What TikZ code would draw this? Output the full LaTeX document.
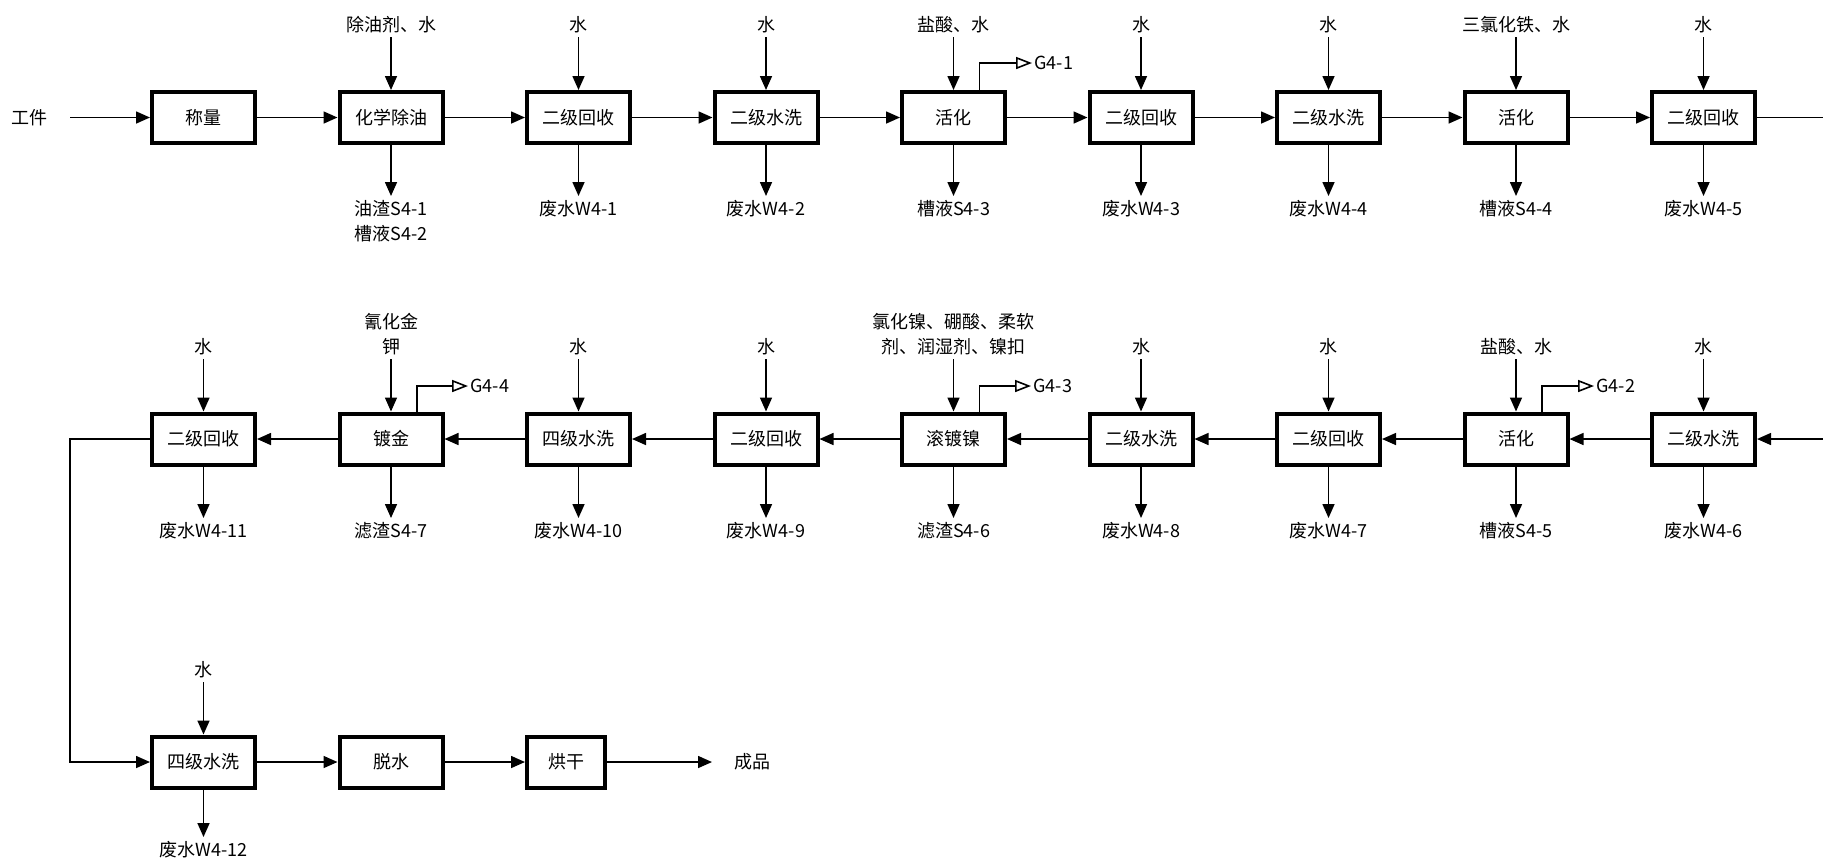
\documentclass[tikz,border=0pt]{standalone}
\usepackage{fontspec}
\setmainfont{Noto Sans CJK SC}
\usetikzlibrary{arrows.meta}
\begin{document}
\begin{tikzpicture}[x=0.5pt,y=-0.5pt,
  proc/.style={draw, line width=2pt, minimum width=51.5pt, minimum height=25.5pt, inner sep=0pt, font=\fontsize{9}{12}\selectfont},
  lbl/.style={inner sep=2pt, font=\fontsize{9}{12.5}\selectfont, align=center},
  gl/.style={inner sep=1pt, anchor=west, font=\fontsize{9}{12}\selectfont},
  flow/.style={line width=0.8pt, -{Triangle[length=7pt,width=6pt]}},
  gas/.style={line width=0.8pt, -{Triangle[open,length=8pt,width=6pt]}},
  plain/.style={line width=0.8pt}]
\useasboundingbox (0,0) rectangle (1823,864);

% ---------- Row 1 ----------
\node[lbl] (work) at (29,117.5) {工件};
\node[proc] (a1) at (203.5,117.5) {称量};
\node[proc] (a2) at (391,117.5) {化学除油};
\node[proc] (a3) at (578.5,117.5) {二级回收};
\node[proc] (a4) at (766,117.5) {二级水洗};
\node[proc] (a5) at (953.5,117.5) {活化};
\node[proc] (a6) at (1141,117.5) {二级回收};
\node[proc] (a7) at (1328.5,117.5) {二级水洗};
\node[proc] (a8) at (1516,117.5) {活化};
\node[proc] (a9) at (1703.5,117.5) {二级回收};
\coordinate (r1) at (1823,117.5);

\draw[flow, shorten <=9.5pt] (work) -- (a1);
\foreach \i/\j in {1/2,2/3,3/4,4/5,5/6,6/7,7/8,8/9} \draw[flow] (a\i) -- (a\j);
\draw[plain] (a9) -- (r1);

\node[lbl,anchor=south] (ta2) at (391,37) {除油剂、水};
\node[lbl,anchor=south] (ta3) at (578.5,37) {水};
\node[lbl,anchor=south] (ta4) at (766,37) {水};
\node[lbl,anchor=south] (ta5) at (953.5,37) {盐酸、水};
\node[lbl,anchor=south] (ta6) at (1141,37) {水};
\node[lbl,anchor=south] (ta7) at (1328.5,37) {水};
\node[lbl,anchor=south] (ta8) at (1516,37) {三氯化铁、水};
\node[lbl,anchor=south] (ta9) at (1703.5,37) {水};
\foreach \i in {2,...,9} \draw[flow] (ta\i) -- (a\i);

\node[lbl,anchor=north] (ba2) at (391,196) {油渣S4-1\\槽液S4-2};
\node[lbl,anchor=north] (ba3) at (578.5,196) {废水W4-1};
\node[lbl,anchor=north] (ba4) at (766,196) {废水W4-2};
\node[lbl,anchor=north] (ba5) at (953.5,196) {槽液S4-3};
\node[lbl,anchor=north] (ba6) at (1141,196) {废水W4-3};
\node[lbl,anchor=north] (ba7) at (1328.5,196) {废水W4-4};
\node[lbl,anchor=north] (ba8) at (1516,196) {槽液S4-4};
\node[lbl,anchor=north] (ba9) at (1703.5,196) {废水W4-5};
\foreach \i in {2,...,9} \draw[flow] (a\i) -- (ba\i);

\node[gl] (g1) at (1032,63) {G4-1};
\draw[gas] ([xshift=13pt]a5.north) |- (g1.west);

% ---------- Row 2 ----------
\node[proc] (b1) at (203.5,439) {二级回收};
\node[proc] (b2) at (391,439) {镀金};
\node[proc] (b3) at (578.5,439) {四级水洗};
\node[proc] (b4) at (766,439) {二级回收};
\node[proc] (b5) at (953.5,439) {滚镀镍};
\node[proc] (b6) at (1141,439) {二级水洗};
\node[proc] (b7) at (1328.5,439) {二级回收};
\node[proc] (b8) at (1516,439) {活化};
\node[proc] (b9) at (1703.5,439) {二级水洗};
\coordinate (r2) at (1823,439);

\draw[flow] (r2) -- (b9);
\foreach \i/\j in {9/8,8/7,7/6,6/5,5/4,4/3,3/2,2/1} \draw[flow] (b\i) -- (b\j);

\node[lbl,anchor=south] (tb1) at (203.5,359) {水};
\node[lbl,anchor=south] (tb2) at (391,359) {氰化金\\钾};
\node[lbl,anchor=south] (tb3) at (578.5,359) {水};
\node[lbl,anchor=south] (tb4) at (766,359) {水};
\node[lbl,anchor=south] (tb5) at (953.5,359) {氯化镍、硼酸、柔软\\剂、润湿剂、镍扣};
\node[lbl,anchor=south] (tb6) at (1141,359) {水};
\node[lbl,anchor=south] (tb7) at (1328.5,359) {水};
\node[lbl,anchor=south] (tb8) at (1516,359) {盐酸、水};
\node[lbl,anchor=south] (tb9) at (1703.5,359) {水};
\foreach \i in {1,...,9} \draw[flow] (tb\i) -- (b\i);

\node[lbl,anchor=north] (bb1) at (203.5,518) {废水W4-11};
\node[lbl,anchor=north] (bb2) at (391,518) {滤渣S4-7};
\node[lbl,anchor=north] (bb3) at (578.5,518) {废水W4-10};
\node[lbl,anchor=north] (bb4) at (766,518) {废水W4-9};
\node[lbl,anchor=north] (bb5) at (953.5,518) {滤渣S4-6};
\node[lbl,anchor=north] (bb6) at (1141,518) {废水W4-8};
\node[lbl,anchor=north] (bb7) at (1328.5,518) {废水W4-7};
\node[lbl,anchor=north] (bb8) at (1516,518) {槽液S4-5};
\node[lbl,anchor=north] (bb9) at (1703.5,518) {废水W4-6};
\foreach \i in {1,...,9} \draw[flow] (b\i) -- (bb\i);

\node[gl] (g4) at (468,386) {G4-4};
\draw[gas] ([xshift=13pt]b2.north) |- (g4.west);
\node[gl] (g3) at (1031,386) {G4-3};
\draw[gas] ([xshift=13pt]b5.north) |- (g3.west);
\node[gl] (g2) at (1594,386) {G4-2};
\draw[gas] ([xshift=13pt]b8.north) |- (g2.west);

% ---------- Row 3 ----------
\node[proc] (c1) at (203.5,762) {四级水洗};
\node[proc] (c2) at (391,762) {脱水};
\node[proc, minimum width=39pt] (c3) at (566,762) {烘干};
\node[lbl, anchor=west] (prod) at (730,762) {成品};
\coordinate (loop) at (70,439);

\draw[flow] (b1) -- (loop) |- (c1);
\draw[flow] (c1) -- (c2);
\draw[flow] (c2) -- (c3);
\draw[flow, shorten >=9pt] (c3) -- (prod);

\node[lbl,anchor=south] (tc1) at (203.5,682) {水};
\draw[flow] (tc1) -- (c1);
\node[lbl,anchor=north] (bc1) at (203.5,837) {废水W4-12};
\draw[flow] (c1) -- (bc1);
\end{tikzpicture}
\end{document}
